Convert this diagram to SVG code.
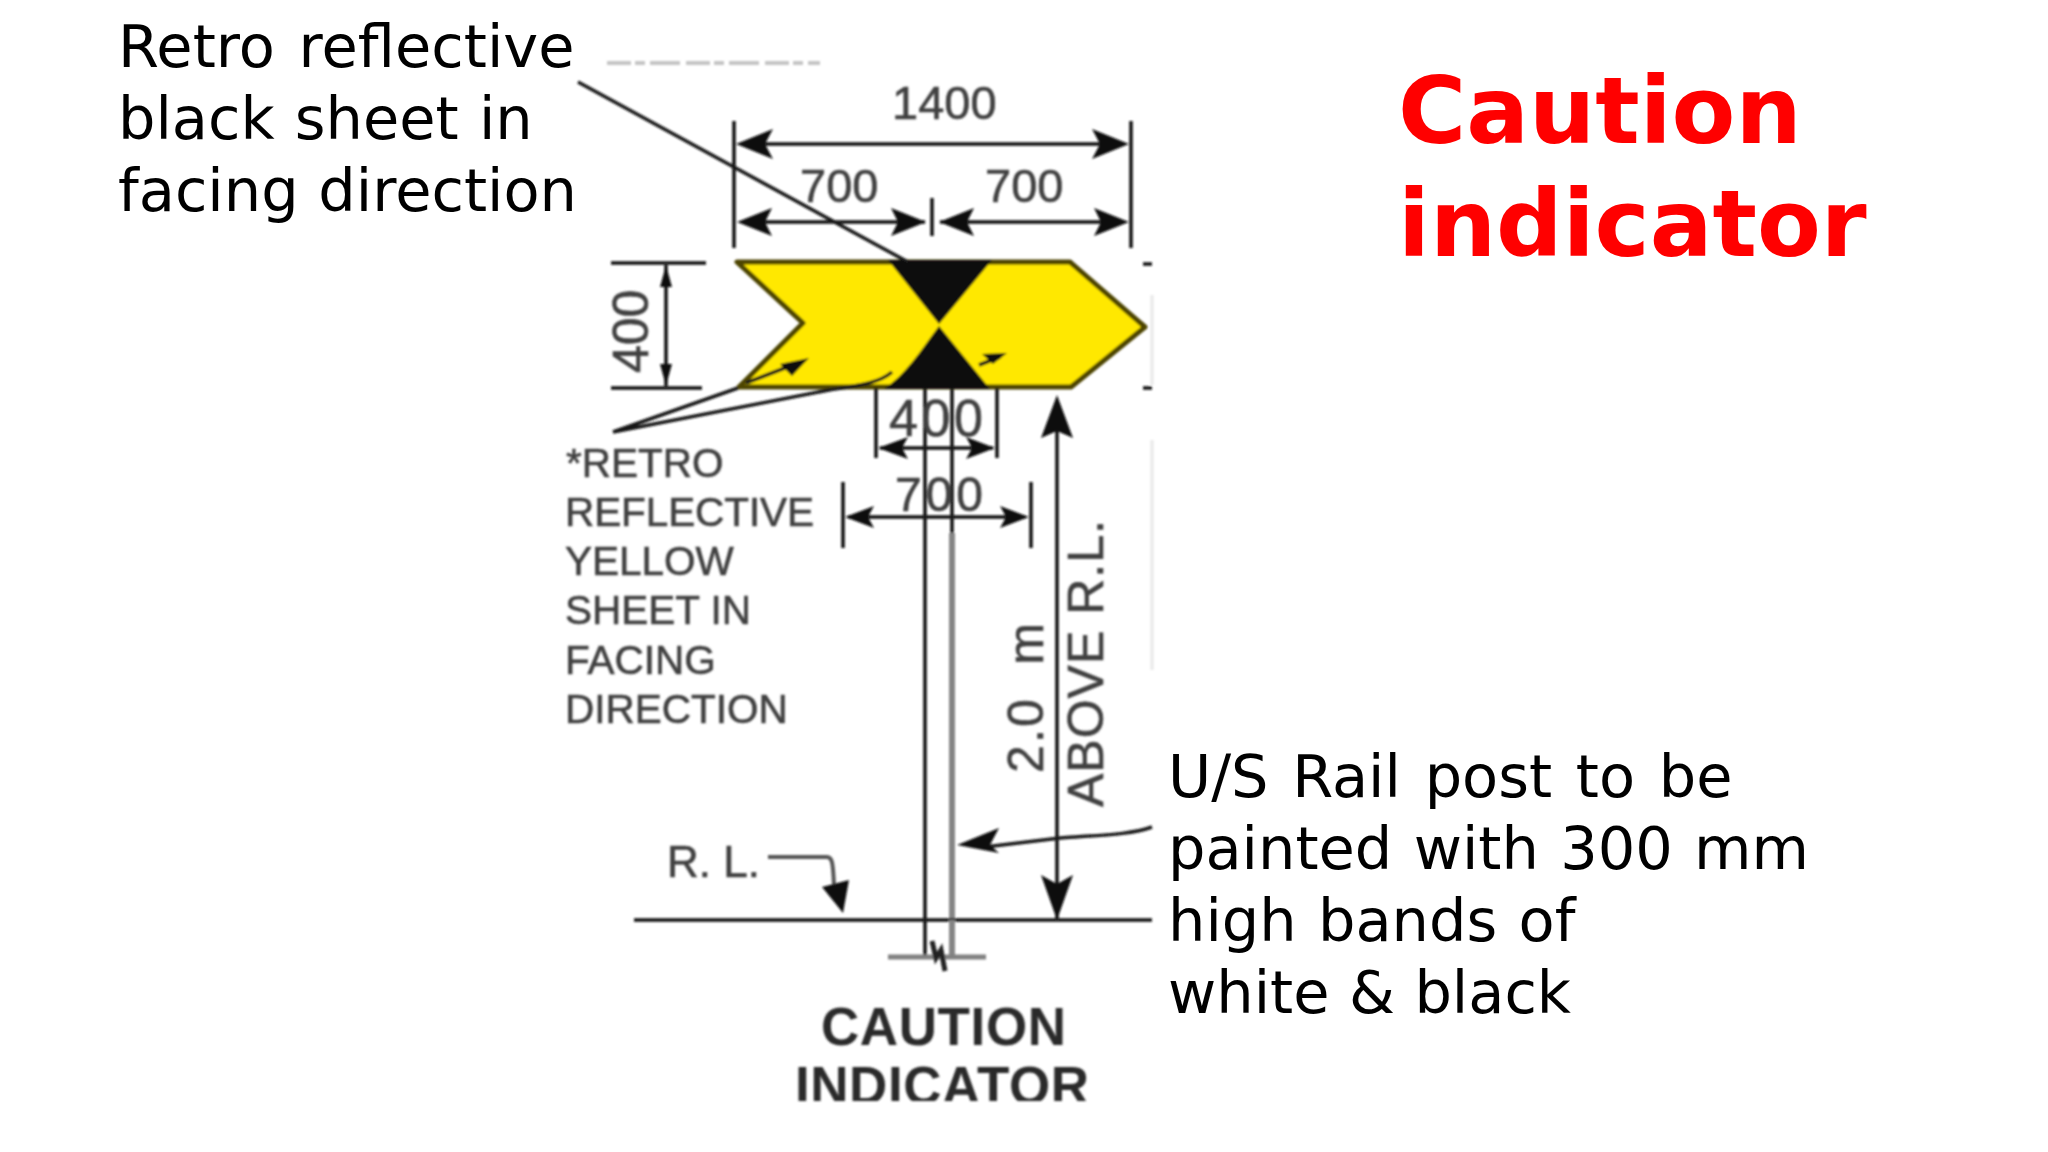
<svg xmlns="http://www.w3.org/2000/svg" width="2048" height="1152" viewBox="0 0 2048 1152">
<style>
.big{font-family:"DejaVu Sans",Verdana,sans-serif;font-size:59px;fill:#000}
.title{font-family:"DejaVu Sans","Liberation Sans",sans-serif;font-weight:700;font-size:93px;fill:#f00}
.dr{font-family:"Liberation Sans",Arial,sans-serif;fill:#404040;stroke:#404040;stroke-width:.6}
.cap{font-family:"Liberation Sans",Arial,sans-serif;fill:#2a2a2a;font-weight:700}
.l{stroke:#161616;stroke-width:3.5;fill:none}
.g{stroke:#858585;stroke-width:6;fill:none}
.a{fill:#111;stroke:none}
</style>
<defs>
<filter id="soft" x="-5%" y="-5%" width="110%" height="110%"><feGaussianBlur stdDeviation="0.8"/></filter>
<clipPath id="cut"><rect x="560" y="1040" width="620" height="61"/></clipPath>
</defs>
<rect width="2048" height="1152" fill="#fff"/>
<g id="drawing" filter="url(#soft)">
<g id="sign">
<path d="M737 262H1070L1145 327L1071 387H739L803 323Z" fill="#ffe800" stroke="#4d4500" stroke-width="5" stroke-linejoin="round"/>
<path d="M888 260H992L939 324Z" fill="#0c0c0c"/>
<path d="M939 326L990 389H884C905 375 920 352 939 326Z" fill="#0c0c0c"/>
</g>
<g id="connectors">
<path class="l" d="M734 121V248M1131 121V248M932 198V236"/>
<path class="l" d="M742 144H1122M742 222H925M940 222H1124"/>
<path class="a" d="M736 144L773 129L765 144L773 159ZM1129 144L1092 129L1100 144L1092 159ZM737 222L772 208L765 222L772 236ZM926 222L891 208L898 222L891 236ZM939 222L974 208L967 222L974 236ZM1129 222L1094 208L1101 222L1094 236Z"/>
<path class="l" d="M611 263H706M611 388H702M666 265V386"/>
<path class="a" d="M666 265L672 287H660ZM666 386L672 364H660Z"/>
<path class="l" stroke-width="4" d="M1143 264H1152M1143 388H1152"/>
<path class="l" stroke-width="3" stroke="#333" d="M578 82L908 262"/>
<path class="l" stroke-width="3" stroke="#333" d="M613 432L738 388M613 432L829 390C855 386 878 384 892 372"/>
<path class="l" stroke="#444" stroke-width="2" d="M746 383L790 366M979 365L1000 357"/>
<path class="a" d="M809 358L780 364L792 376ZM1007 353L982 354L993 364Z"/>
<path class="l" d="M876 388V458M997 388V458M925 388V920M952 388V533"/>
<path class="g" d="M952 533V920"/>
<path class="l" d="M880 448H993"/>
<path class="a" d="M878 448L908 437L902 448L908 459ZM995 448L966 437L972 448L966 459Z"/>
<path class="l" d="M843 482V548M1031 482V548M848 517H1025"/>
<path class="a" d="M845 517L874 506L868 517L874 528ZM1029 517L1000 506L1006 517L1000 528Z"/>
<path class="l" d="M1057 420V920"/>
<path class="a" d="M1057 395L1073 438L1057 431L1041 438ZM1057 920L1073 875L1057 884L1041 875Z"/>
<path class="l" stroke-width="5" d="M634 920H1152"/>
<path class="l" d="M925 920V957"/>
<path class="g" d="M952 920V957"/>
<path d="M888 957H986" stroke="#808080" stroke-width="5"/>
<path d="M932 941L936 958L941 950L945 971" fill="none" stroke="#222" stroke-width="5"/>
<path class="l" stroke="#333" d="M985 847L1060 838C1100 835 1130 835 1152 827"/>
<path class="a" d="M957 845L999 828L990 845L999 853Z"/>
<path d="M768 857H827C832 857 833 862 834 885" stroke="#555" stroke-width="4" fill="none"/>
<path class="a" d="M843 913L822 887L849 880Z"/>
</g>
<g id="labels">
<text class="dr" x="892" y="119" font-size="47">1400</text>
<text class="dr" x="800" y="202" font-size="47">700</text>
<text class="dr" x="985" y="202" font-size="47">700</text>
<text class="dr" font-size="50" transform="translate(648 373) rotate(-90)">400</text>
<text class="dr" x="889" y="436" font-size="52" textLength="94">400</text>
<text class="dr" x="895" y="511" font-size="48" textLength="88">700</text>
<text class="dr" font-size="40.5"><tspan x="566" y="477">*RETRO</tspan><tspan x="565" y="526" textLength="249">REFLECTIVE</tspan><tspan x="565" y="575">YELLOW</tspan><tspan x="565" y="624">SHEET IN</tspan><tspan x="565" y="674">FACING</tspan><tspan x="565" y="723">DIRECTION</tspan></text>
<text class="dr" font-size="50" style="white-space:pre" transform="translate(1043 773) rotate(-90)" textLength="150">2.0  m</text>
<text class="dr" font-size="50" transform="translate(1103 807) rotate(-90)" textLength="287">ABOVE R.L.</text>
<text class="dr" x="667" y="877" font-size="44" textLength="93">R. L.</text>
<text class="cap" x="821" y="1045" font-size="53" textLength="245">CAUTION</text>
<g clip-path="url(#cut)"><text class="cap" x="795" y="1104" font-size="53" textLength="294">INDICATOR</text></g>
</g>
<path id="residue" d="M607 63H820" stroke="#c4c4c4" stroke-width="4" stroke-dasharray="24 4 10 5 30 6"/>
<path id="edge" d="M1152 440V670M1152 295V385" stroke="#e8e8e8" stroke-width="3"/>
</g>
<g id="captions">
<text class="big"><tspan x="118" y="67" word-spacing="5">Retro reflective</tspan><tspan x="118" y="139" word-spacing="1.5">black sheet in</tspan><tspan x="118" y="211" word-spacing="1">facing direction</tspan></text>
<text class="big"><tspan x="1168" y="797" word-spacing="5">U/S Rail post to be</tspan><tspan x="1168" y="869" word-spacing="2.6">painted with 300 mm</tspan><tspan x="1168" y="941" word-spacing="2.6">high bands of</tspan><tspan x="1168" y="1013" word-spacing=".7">white &amp; black</tspan></text>
</g>
<g id="title"><text class="title"><tspan x="1398" y="143">Caution</tspan><tspan x="1398" y="256">indicator</tspan></text></g>
</svg>
